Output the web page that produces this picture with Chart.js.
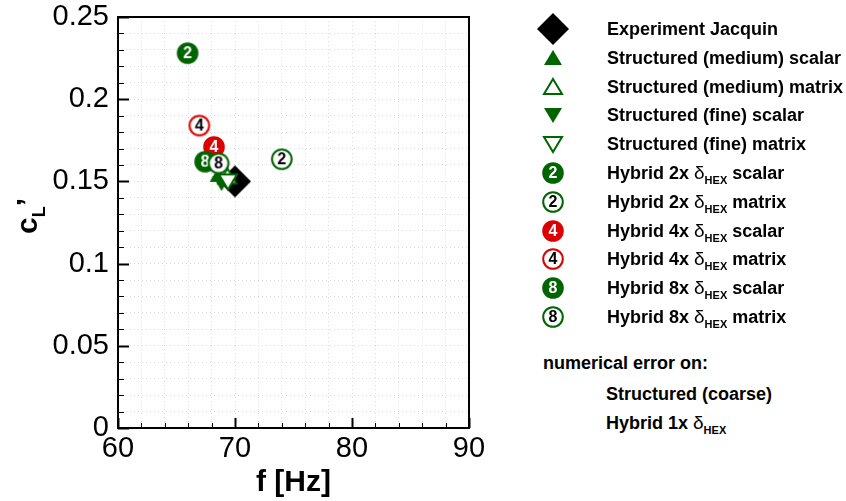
<!DOCTYPE html>
<html>
<head>
<meta charset="utf-8">
<script src="https://cdn.jsdelivr.net/npm/chart.js@4"></script>
<style>
  body { margin: 0; background: #fff; font-family: "Liberation Sans", Arial, sans-serif; }
  #wrap { position: absolute; left: 0; top: 0; width: 490px; height: 501px; }
  #ytitle { position: absolute; left: 30px; top: 216px; transform: translate(-50%, -50%) rotate(-90deg);
    font-weight: bold; font-size: 30px; white-space: nowrap; color: #000; }
  #ytitle sub { font-size: 18px; vertical-align: -8px; }
  .row { position: absolute; height: 24px; line-height: 24px; font-weight: bold; font-size: 18px; color: #000; white-space: nowrap; }
  .row canvas { position: absolute; }
  .d { font-weight: normal; font-size: 19px; }
  .row sub { font-size: 11px; vertical-align: -5px; line-height: 0; }
</style>
</head>
<body>
<div id="wrap"><canvas id="chart"></canvas></div>
<div id="ytitle">c<sub>L</sub>’</div>
<div id="legend"></div>
<script>
// data: one point per series
const seriesNames = [
  'Experiment Jacquin',
  'Structured (medium) scalar',
  'Structured (medium) matrix',
  'Structured (fine) scalar',
  'Structured (fine) matrix',
  'Hybrid 2x δHEX scalar',
  'Hybrid 2x δHEX matrix',
  'Hybrid 4x δHEX scalar',
  'Hybrid 4x δHEX matrix',
  'Hybrid 8x δHEX scalar',
  'Hybrid 8x δHEX matrix'
];
const freqHz = [70.0, 68.6, 69.35, 68.85, 69.4, 65.95, 74.0, 68.2, 66.95, 67.45, 68.6];
const cLprime = [0.150, 0.154, 0.153, 0.149, 0.150, 0.228, 0.1635, 0.171, 0.184, 0.162, 0.161];
const xTicks = [60, 70, 80, 90];
const yTicks = [0, 0.05, 0.1, 0.15, 0.2, 0.25];

const GREEN = '#006400';
const RED = '#dd0000';
// marker looks, same order as seriesNames
const markerKinds = ['diamond', 'triUp', 'triUpOpen', 'triDown', 'triDownOpen',
  'circle', 'circleOpen', 'circle', 'circleOpen', 'circle', 'circleOpen'];
const markerColors = ['#000', GREEN, GREEN, GREEN, GREEN, GREEN, GREEN, RED, RED, GREEN, GREEN];
const markerNums = ['', '', '', '', '', '2', '2', '4', '4', '8', '8'];

function makeMarker(kind, color, num) {
  const s = kind === 'diamond' ? 34 : 26;
  const c = document.createElement('canvas');
  c.width = s; c.height = s;
  const g = c.getContext('2d');
  const m = s / 2;
  g.lineWidth = 2;
  g.lineJoin = 'miter';
  if (kind === 'diamond') {
    g.beginPath();
    g.moveTo(m, m - 16); g.lineTo(m + 16, m); g.lineTo(m, m + 16); g.lineTo(m - 16, m);
    g.closePath();
    g.fillStyle = '#000';
    g.fill();
  } else if (kind.startsWith('tri')) {
    const up = kind.startsWith('triUp');
    const open = kind.endsWith('Open');
    const sgn = up ? 1 : -1;
    g.beginPath();
    g.moveTo(m, m - 8 * sgn);
    g.lineTo(m + 9, m + 7 * sgn);
    g.lineTo(m - 9, m + 7 * sgn);
    g.closePath();
    if (open) {
      g.fillStyle = '#fff'; g.fill();
      g.strokeStyle = color; g.stroke();
    } else {
      g.fillStyle = color; g.fill();
    }
  } else {
    const open = kind.endsWith('Open');
    g.beginPath();
    g.arc(m, m, 9.8, 0, Math.PI * 2);
    g.fillStyle = open ? '#fff' : color;
    g.fill();
    g.strokeStyle = color;
    g.stroke();
    g.fillStyle = open ? '#000' : '#fff';
    g.font = 'bold 16px "Liberation Sans", Arial, sans-serif';
    g.textAlign = 'center';
    g.textBaseline = 'middle';
    g.fillText(num, m, m + 1);
  }
  return c;
}

// frame plus inward ticks like the original plot
const frameTicks = {
  id: 'frameTicks',
  afterDraw(chart) {
    const { ctx, chartArea: a, scales: { x, y } } = chart;
    ctx.save();
    ctx.strokeStyle = '#000';
    x.ticks.forEach(t => {
      const px = Math.round(x.getPixelForValue(t.value)) + 0.5;
      const major = xTicks.includes(Math.round(t.value));
      ctx.lineWidth = major ? 2 : 1;
      ctx.beginPath();
      ctx.moveTo(px, a.bottom);
      ctx.lineTo(px, a.bottom - (major ? 10 : 5));
      ctx.stroke();
    });
    y.ticks.forEach(t => {
      const py = Math.round(y.getPixelForValue(t.value)) + 0.5;
      const major = Math.round(t.value * 100) % 5 === 0;
      ctx.lineWidth = major ? 2 : 1;
      ctx.beginPath();
      ctx.moveTo(a.left, py);
      ctx.lineTo(a.left + (major ? 11 : 6), py);
      ctx.stroke();
    });
    ctx.lineWidth = 2;
    ctx.strokeRect(a.left, a.top, a.right - a.left, a.bottom - a.top);
    ctx.restore();
  }
};

const n = seriesNames.length;
const datasets = seriesNames.map((name, i) => ({
  label: name,
  data: [{ x: freqHz[i], y: cLprime[i] }],
  pointStyle: makeMarker(markerKinds[i], markerColors[i], markerNums[i]),
  pointRadius: 10,
  showLine: false,
  order: n - i
}));

new Chart(document.getElementById('chart'), {
  type: 'scatter',
  data: { datasets },
  options: {
    responsive: true,
    maintainAspectRatio: false,
    animation: false,
    layout: { padding: { left: 0, top: 17, right: 21, bottom: 0 } },
    plugins: { legend: { display: false }, tooltip: { enabled: false } },
    scales: {
      x: {
        type: 'linear', min: 60, max: 90,
        afterFit: s => { s.height = 73; s.paddingLeft = 0; s.paddingRight = 0; },
        ticks: {
          stepSize: 2, autoSkip: false, maxRotation: 0, padding: 4, color: '#000',
          font: { size: 29, family: '"Liberation Sans", Arial, sans-serif' },
          callback: v => xTicks.includes(v) ? String(v) : ''
        },
        grid: { color: '#dcdcdc', drawTicks: false },
        border: { display: false, dash: [1, 3] },
        title: {
          display: true, text: 'f [Hz]', color: '#000', padding: { top: 0, bottom: 0 },
          font: { size: 30, weight: 'bold', family: '"Liberation Sans", Arial, sans-serif' }
        }
      },
      y: {
        type: 'linear', min: 0, max: 0.25,
        afterFit: s => { s.width = 118; s.paddingTop = 0; s.paddingBottom = 0; },
        ticks: {
          stepSize: 0.01, autoSkip: false, padding: 9, color: '#000',
          font: { size: 29, family: '"Liberation Sans", Arial, sans-serif' },
          callback: v => {
            const r = Math.round(v * 100) / 100;
            return yTicks.includes(r) ? String(r) : '';
          }
        },
        grid: { color: '#dcdcdc', drawTicks: false },
        border: { display: false, dash: [1, 3] }
      }
    }
  },
  plugins: [frameTicks]
});

// legend on the right, built as html so the subscripts stay real text
const legend = document.getElementById('legend');
function legendHtml(name) {
  return name.replace('δHEX', '<span class="d">δ</span><sub>HEX</sub>');
}
seriesNames.forEach((name, i) => {
  const cy = 29 + i * 28.8;
  const row = document.createElement('div');
  row.className = 'row';
  row.style.left = '0px';
  row.style.top = (cy - 12) + 'px';
  row.style.width = '846px';
  const mk = makeMarker(markerKinds[i], markerColors[i], markerNums[i]);
  mk.style.left = (553 - mk.width / 2) + 'px';
  mk.style.top = (12 - mk.height / 2) + 'px';
  row.appendChild(mk);
  const txt = document.createElement('span');
  txt.style.position = 'absolute';
  txt.style.left = '607px';
  txt.innerHTML = legendHtml(name);
  row.appendChild(txt);
  legend.appendChild(row);
});
const extra = [
  { text: 'numerical error on:', left: 543, cy: 363 },
  { text: 'Structured (coarse)', left: 606, cy: 394 },
  { text: 'Hybrid 1x δHEX', left: 606, cy: 423 }
];
extra.forEach(e => {
  const row = document.createElement('div');
  row.className = 'row';
  row.style.left = e.left + 'px';
  row.style.top = (e.cy - 12) + 'px';
  row.innerHTML = legendHtml(e.text);
  legend.appendChild(row);
});
</script>
</body>
</html>
